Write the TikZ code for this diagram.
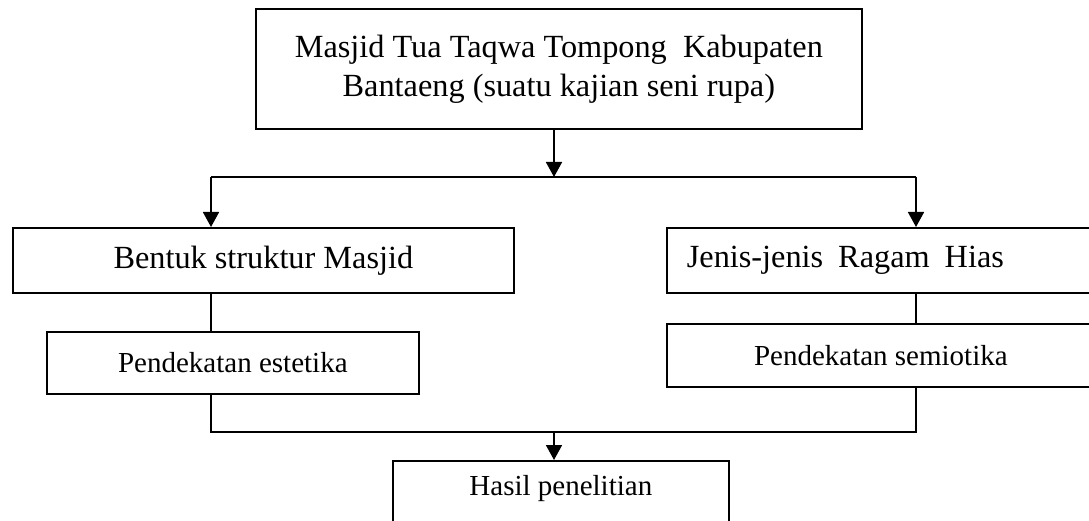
\documentclass[tikz,border=0pt]{standalone}
\usepackage{fontspec}
\setmainfont{Liberation Serif}
\usepackage{tikz}
\usetikzlibrary{arrows.meta,positioning,calc}
\definecolor{ink}{RGB}{0,0,0}

\tikzset{
  kotak/.style={draw=ink,line width=1.7pt,inner sep=0pt,anchor=north west,
    align=center},
  garis/.style={draw=ink,line width=1.7pt},
  panah/.style={garis,-{Triangle[width=16pt,length=15pt]}},
  besar/.style={font=\fontsize{32.3}{39}\selectfont},
  kecil/.style={font=\fontsize{29}{35}\selectfont}
}

\begin{document}
\begin{tikzpicture}[x=1pt,y=-1pt]
  \useasboundingbox (0,0) rectangle (1089,521);
  % kotak-kotak
  \node[kotak,besar,minimum width=606pt,minimum height=120pt] (judul)
    at (255,8) {Masjid Tua Taqwa Tompong\ \ Kabupaten\\
      Bantaeng (suatu kajian seni rupa)};
  \node[kotak,besar,minimum width=501pt,minimum height=65pt] (bentuk)
    at (12,227) {Bentuk struktur Masjid};
  \node[kotak,besar,minimum height=65pt,text width=388pt,inner xsep=20pt,
    align=left] (jenis)
    at (666,227) {Jenis-jenis\hspace{15pt}Ragam\hspace{15pt}Hias};
  \node[kotak,kecil,minimum width=372pt,minimum height=62pt] (estetika)
    at (46,331) {Pendekatan estetika};
  \node[kotak,kecil,minimum width=428pt,minimum height=63pt] (semiotika)
    at (666,323) {Pendekatan semiotika};
  \node[kotak,kecil,minimum width=336pt,inner ysep=5pt,
    text height=30pt,text depth=45pt] (hasil)
    at (392,460) {Hasil penelitian};

  % titik cabang
  \coordinate (cabang) at (554,177);
  \coordinate (kiri) at (211,177);
  \coordinate (kanan) at (916,177);
  \coordinate (gabung) at (554,432);

  \draw[panah] (judul.south -| cabang) -- (cabang);
  \draw[garis] (kiri) -- (kanan);
  \draw[panah] (kiri) -- (kiri |- bentuk.north);
  \draw[panah] (kanan) -- (kanan |- jenis.north);

  \draw[garis] (bentuk.south -| kiri) -- (estetika.north -| kiri);
  \draw[garis] (jenis.south -| kanan) -- (semiotika.north -| kanan);
  \draw[garis] (estetika.south -| kiri) -- (kiri |- gabung)
    -- (kanan |- gabung) -- (semiotika.south -| kanan);
  \draw[panah] (gabung) -- (hasil.north -| gabung);
\end{tikzpicture}
\end{document}
